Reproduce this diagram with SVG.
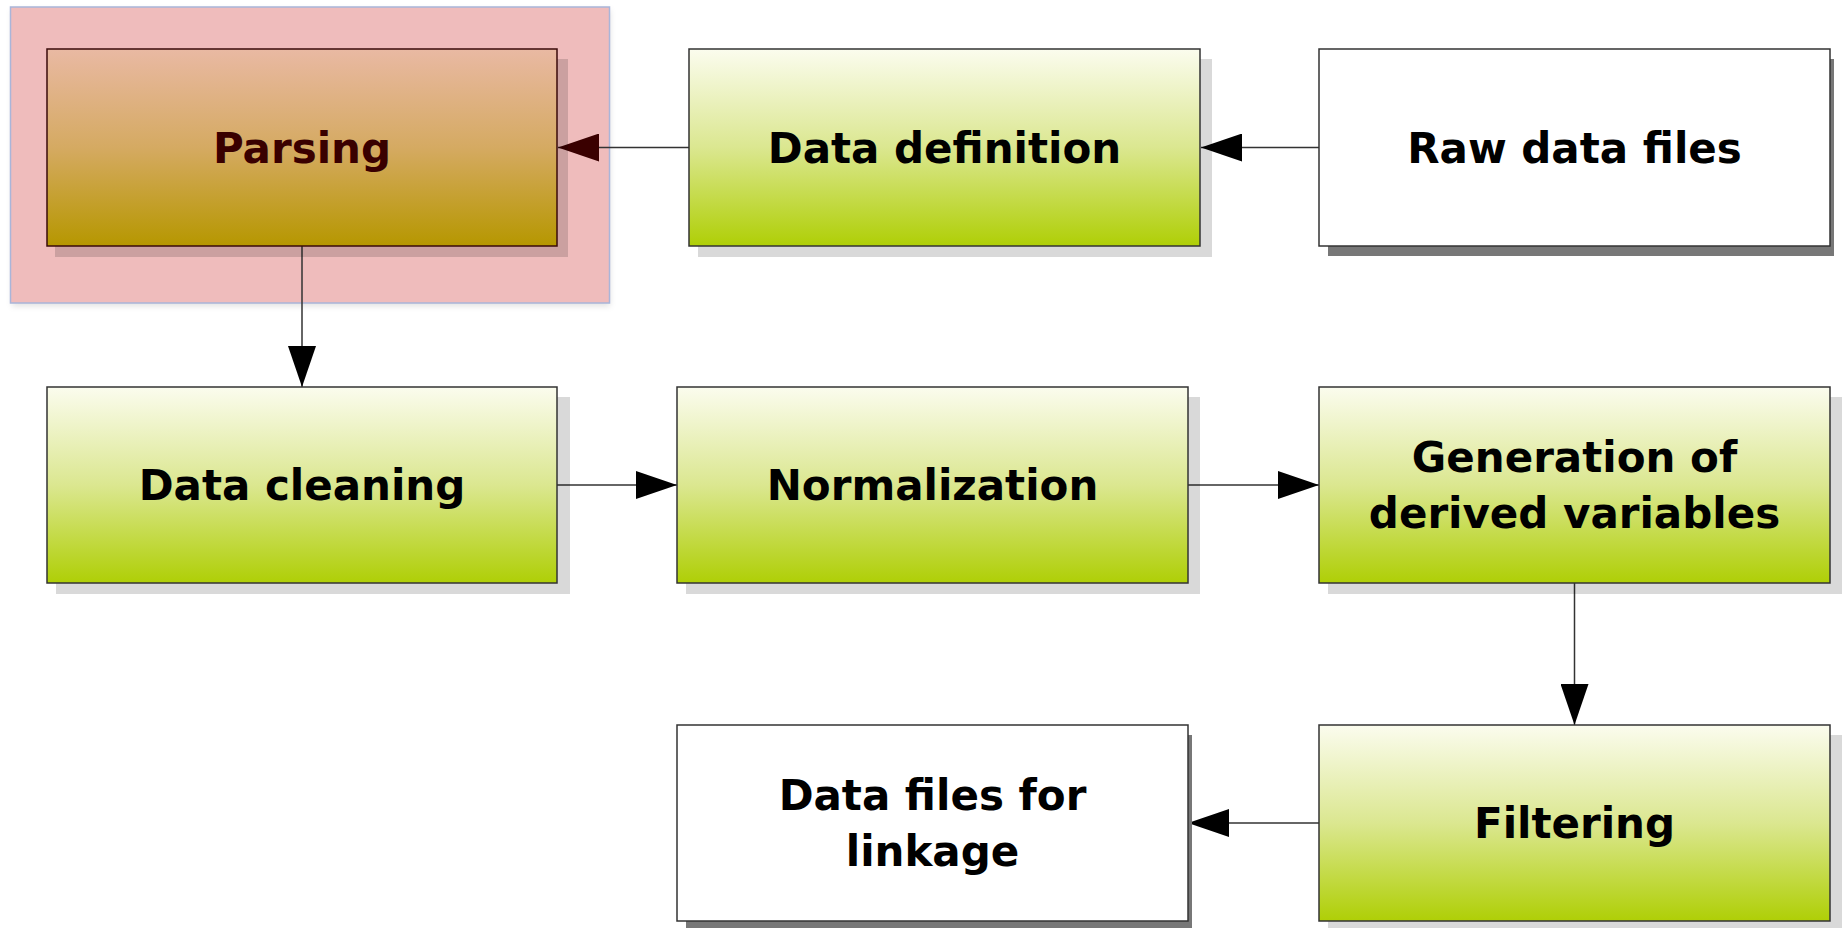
<svg xmlns="http://www.w3.org/2000/svg" width="1843" height="928" viewBox="0 0 1843 928">
  <defs>
    <linearGradient id="gGreen" x1="0" y1="0" x2="0" y2="1">
      <stop offset="0" stop-color="#fbfcee"/>
      <stop offset="0.5" stop-color="#dbe790"/>
      <stop offset="1" stop-color="#afcf06"/>
    </linearGradient>
    <linearGradient id="gParse" x1="0" y1="0" x2="0" y2="1">
      <stop offset="0" stop-color="#e9b9a3"/>
      <stop offset="0.5" stop-color="#d5aa62"/>
      <stop offset="1" stop-color="#b69700"/>
    </linearGradient>
    <filter id="soft" x="-5%" y="-5%" width="110%" height="115%">
      <feGaussianBlur stdDeviation="3"/>
    </filter>
    <marker id="arrow" viewBox="0 0 41 28" refX="41" refY="14" markerWidth="41" markerHeight="28" markerUnits="userSpaceOnUse" orient="auto">
      <path d="M0,0 L41,14 L0,28 Z" fill="#000"/>
    </marker>
    <marker id="arrowDark" viewBox="0 0 41 28" refX="41" refY="14" markerWidth="41" markerHeight="28" markerUnits="userSpaceOnUse" orient="auto">
      <path d="M0,0 L41,14 L0,28 Z" fill="#3a0000"/>
    </marker>
  </defs>
  <style>
    .box { stroke: #333; stroke-width: 1.5; }
    .green { fill: url(#gGreen); }
    .plain { fill: #ffffff; }
    .shLight { fill: #000; fill-opacity: 0.15; }
    .shDark { fill: #777; }
    .label { font-family: "DejaVu Sans", "Liberation Sans", sans-serif; font-weight: bold; font-size: 42px; fill: #000; text-anchor: middle; }
    .edge { stroke: #333; stroke-width: 1.5; fill: none; }
  </style>

  <rect width="1843" height="928" fill="#ffffff"/>

  <!-- highlighted area around the parsing step -->
  <g id="highlight">
    <rect x="12" y="10" width="598" height="296" fill="#000" fill-opacity="0.12" filter="url(#soft)"/>
    <rect x="10.5" y="7" width="599" height="296" fill="#efbcbc" stroke="#a9b5d9" stroke-width="1.5"/>
  </g>

  <!-- connectors -->
  <g id="connectors">
    <line class="edge" x1="1319" y1="147.5" x2="1201" y2="147.5" marker-end="url(#arrow)"/>
    <line class="edge" x1="689" y1="147.5" x2="558" y2="147.5" marker-end="url(#arrowDark)"/>
    <line class="edge" x1="302" y1="246" x2="302" y2="387" marker-end="url(#arrow)"/>
    <line class="edge" x1="557" y1="485" x2="677" y2="485" marker-end="url(#arrow)"/>
    <line class="edge" x1="1188" y1="485" x2="1319" y2="485" marker-end="url(#arrow)"/>
    <line class="edge" x1="1574.5" y1="583" x2="1574.5" y2="725" marker-end="url(#arrow)"/>
    <line class="edge" x1="1319" y1="823" x2="1188" y2="823" marker-end="url(#arrow)"/>
  </g>

  <g id="parsing">
    <rect class="shLight" x="55" y="59" width="513" height="198"/>
    <rect x="47" y="49" width="510" height="197" fill="url(#gParse)" stroke="#3a0a0a" stroke-width="1.5"/>
    <text class="label" x="302" y="162.5" style="fill:#3a0000">Parsing</text>
  </g>

  <g id="data-definition">
    <rect class="shLight" x="698" y="59" width="514" height="198"/>
    <rect class="box green" x="689" y="49" width="511" height="197"/>
    <text class="label" x="944.5" y="162.5">Data definition</text>
  </g>

  <g id="raw-data-files">
    <rect class="shDark" x="1328" y="59" width="506" height="197"/>
    <rect class="box plain" x="1319" y="49" width="511" height="197"/>
    <text class="label" x="1574.5" y="162.5">Raw data files</text>
  </g>

  <g id="data-cleaning">
    <rect class="shLight" x="56" y="397" width="514" height="197"/>
    <rect class="box green" x="47" y="387" width="510" height="196"/>
    <text class="label" x="302" y="500">Data cleaning</text>
  </g>

  <g id="normalization">
    <rect class="shLight" x="686" y="397" width="514" height="197"/>
    <rect class="box green" x="677" y="387" width="511" height="196"/>
    <text class="label" x="932.5" y="500">Normalization</text>
  </g>

  <g id="derived-variables">
    <rect class="shLight" x="1328" y="397" width="514" height="197"/>
    <rect class="box green" x="1319" y="387" width="511" height="196"/>
    <text class="label" x="1574.5" y="472">Generation of</text>
    <text class="label" x="1574.5" y="528">derived variables</text>
  </g>

  <g id="filtering">
    <rect class="shLight" x="1328" y="735" width="514" height="197"/>
    <rect class="box green" x="1319" y="725" width="511" height="196"/>
    <text class="label" x="1574.5" y="838">Filtering</text>
  </g>

  <g id="linkage-files">
    <rect class="shDark" x="686" y="735" width="506" height="196"/>
    <rect class="box plain" x="677" y="725" width="511" height="196"/>
    <text class="label" x="932.5" y="810">Data files for</text>
    <text class="label" x="932.5" y="866">linkage</text>
  </g>
</svg>
